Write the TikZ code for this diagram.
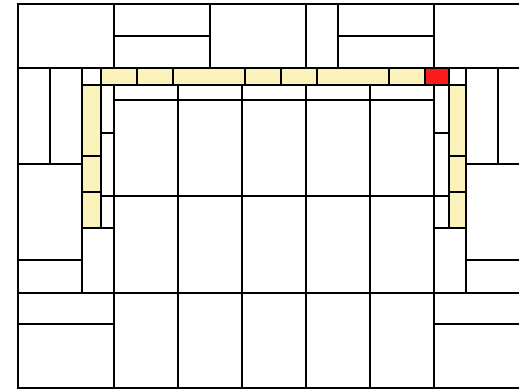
\documentclass[tikz,border=0pt]{standalone}
\usetikzlibrary{positioning}
\definecolor{fg}{RGB}{0,0,0}
\definecolor{strip}{RGB}{251,243,187}
\definecolor{hot}{RGB}{250,28,28}
\tikzset{
  every picture/.style={fg, line width=2pt, line cap=rect, line join=miter},
  % Platten
  tile/.style={draw, fill=strip},
  hottile/.style={draw, fill=hot},
  gap/.style={draw, fill=white},
}

\begin{document}
\begin{tikzpicture}[x=1pt, y=-1pt]
  \useasboundingbox (0,0) rectangle (519,390);
  \clip (0,0) rectangle (519,390);
  \fill[white] (0,0) rectangle (519,390);
  % Rand
  \draw (18,4) rectangle (530,388);
  % obere Reihe
  \foreach \x in {114,210,306,338,434} \draw (\x,4) -- (\x,68);
  \draw (114,36) -- (210,36) (338,36) -- (434,36);
  \draw (18,68) -- (530,68);
  % links
  \draw (50,68) -- (50,164) (82,68) -- (82,293);
  \draw (18,164) -- (82,164) (18,260) -- (82,260);
  \draw (18,324) -- (114,324);
  % rechts
  \draw (498,68) -- (498,164) (466,68) -- (466,293);
  \draw (466,164) -- (530,164) (466,260) -- (530,260);
  \draw (434,324) -- (530,324);
  % Mitte
  \foreach \x in {114,178,242,306,370,434} \draw (\x,85) -- (\x,388);
  \draw (101,85) -- (449,85);
  \draw (114,100) -- (434,100);
  \draw (101,196) -- (449,196);
  \draw (18,293) -- (530,293);
  \draw (101,133) -- (114,133) (434,133) -- (449,133);
  \draw (82,228) -- (114,228) (434,228) -- (466,228);
  % Streifen oben
  \foreach \a/\b in {101/137,137/172.5,172.5/244.5,244.5/281,281/317,317/389,389/425}
    \draw[tile] (\a,68) rectangle (\b,85);
  \draw[hottile] (425,68) rectangle (449,85);
  \draw[gap] (82,68) rectangle (101,85);
  \draw[gap] (449,68) rectangle (466,85);
  % Streifen seitlich
  \foreach \a/\b in {85/156,156/192,192/228} {
    \draw[tile] (82,\a) rectangle (101,\b);
    \draw[tile] (449,\a) rectangle (466,\b);
  }
\end{tikzpicture}
\end{document}
